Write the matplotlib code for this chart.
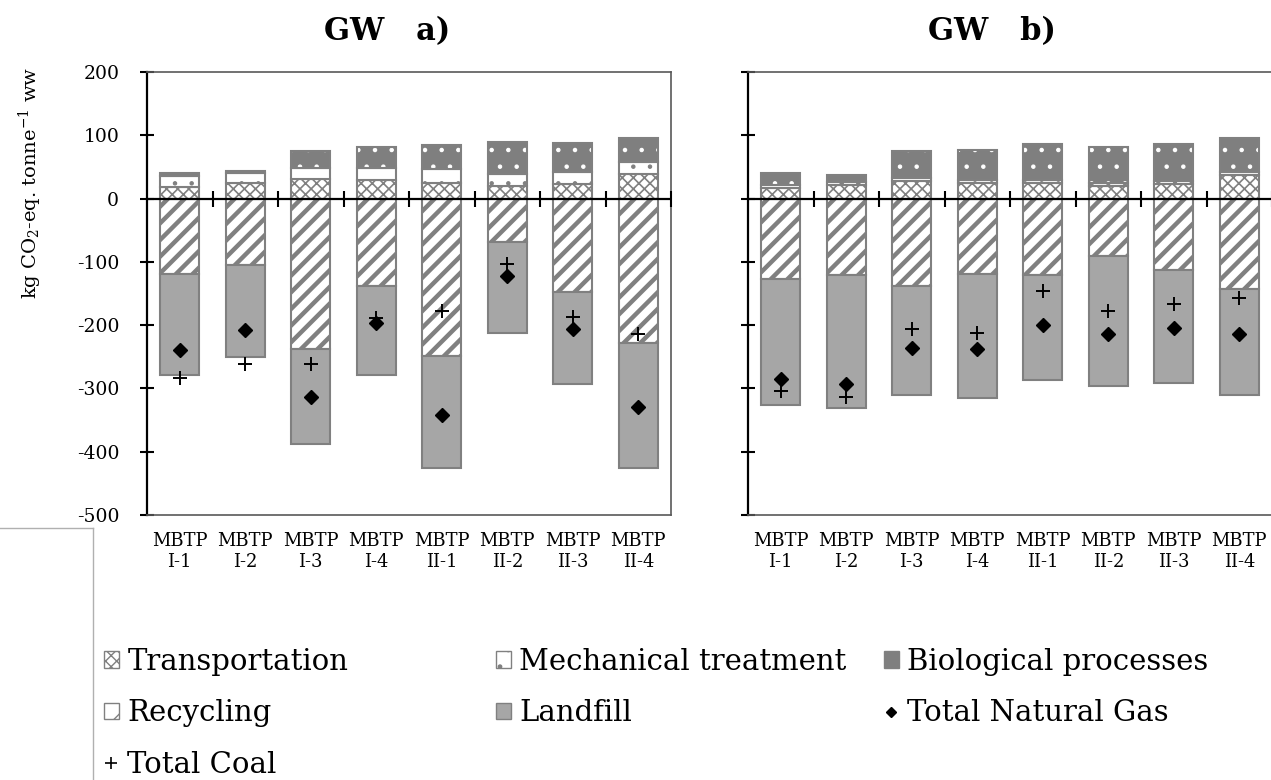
import matplotlib
matplotlib.use('Agg')
import numpy as np
import matplotlib.pyplot as plt
from matplotlib.patches import Patch
from matplotlib.lines import Line2D

plt.rcParams['font.family'] = 'DejaVu Serif'
plt.rcParams['mathtext.fontset'] = 'dejavuserif'
plt.rcParams['axes.unicode_minus'] = False

categories = ['MBTP\nI-1', 'MBTP\nI-2', 'MBTP\nI-3', 'MBTP\nI-4',
              'MBTP\nII-1', 'MBTP\nII-2', 'MBTP\nII-3', 'MBTP\nII-4']

# panel a)
transport_a = [19, 24, 31, 30, 25, 20, 23, 39]
mech_a = [16, 16, 18, 19, 21, 19, 19, 18]
bio_a = [6, 4, 26, 33, 39, 51, 46, 38]
recycling_a = [-119, -105, -237, -138, -249, -69, -148, -228]
landfill_a = [-160, -145, -151, -140, -177, -143, -145, -197]
coal_a = [-284, -262, -262, -188, -178, -103, -187, -214]
gas_a = [-240, -207, -314, -197, -342, -123, -206, -330]

# panel b)
transport_b = [17, 21, 28, 24, 24, 20, 23, 38]
mech_b = [5, 5, 5, 6, 5, 4, 5, 4]
bio_b = [19, 11, 42, 46, 57, 57, 58, 54]
recycling_b = [-127, -120, -138, -119, -120, -91, -113, -143]
landfill_b = [-199, -211, -172, -196, -166, -205, -179, -168]
coal_b = [-304, -313, -206, -213, -146, -178, -167, -157]
gas_b = [-285, -293, -236, -238, -199, -214, -205, -214]

EDGE = '#808080'
BIO = '#7f7f7f'
LAND = '#a6a6a6'

W, H = 1271, 780
fig = plt.figure(figsize=(W / 100, H / 100), dpi=100)


def px_axes(x0, y0, x1, y1):
    return fig.add_axes([x0 / W, 1 - y1 / H, (x1 - x0) / W, (y1 - y0) / H])


def set_hlw(patches, lw):
    for p in patches:
        if hasattr(p, 'set_hatch_linewidth'):
            p.set_hatch_linewidth(lw)


def hatched(ax, x, h, b, face, hatch, hcolor, hlw):
    with plt.rc_context({'hatch.linewidth': hlw}):
        bars = ax.bar(x, h, 0.6, bottom=b, color=face, edgecolor=hcolor,
                      hatch=hatch, linewidth=0, zorder=2)
    set_hlw(bars, hlw)
    ax.bar(x, h, 0.6, bottom=b, fill=False, edgecolor=EDGE, linewidth=1.5, zorder=2)


def panel(ax, transport, mech, bio, recycling, landfill, coal, gas, labels=True):
    x = np.arange(len(categories))
    t = np.array(transport)
    m = np.array(mech)
    b = np.array(bio)
    r = np.array(recycling)
    hatched(ax, x, t, 0, 'white', 'xxx', EDGE, 1.2)
    hatched(ax, x, m, t, 'white', '.', EDGE, 0.8)
    hatched(ax, x, b, t + m, BIO, '.', 'white', 0.8)
    hatched(ax, x, r, 0, 'white', '//', EDGE, 3.2)
    hatched(ax, x, landfill, r, LAND, None, EDGE, 1)
    ax.plot(x, coal, ls='none', marker='+', color='black', ms=10.5, mew=1.4, zorder=4)
    ax.plot(x, gas, ls='none', marker='D', color='black', ms=7, zorder=4)

    ax.axhline(0, color='black', lw=1.6, zorder=3)
    bounds = np.arange(len(categories)) + 0.5
    ax.plot(bounds, np.zeros(len(bounds)), ls='none', marker='|', color='black',
            ms=11, mew=1.5, zorder=3, clip_on=False)

    ax.set_xlim(-0.5, len(categories) - 0.5)
    ax.set_ylim(-500, 200)
    ax.set_yticks(range(-500, 201, 100))
    ax.tick_params(axis='y', direction='inout', length=10, width=1.5,
                   labelsize=13.5, pad=15)
    ax.set_xticks(x)
    ax.set_xticklabels(categories, fontsize=13, linespacing=1.25)
    ax.tick_params(axis='x', length=0, pad=12)
    if not labels:
        ax.tick_params(axis='y', labelleft=False)
    for s in ['top', 'right', 'bottom']:
        ax.spines[s].set_color('#595959')
        ax.spines[s].set_linewidth(1.2)
    ax.spines['left'].set_color('black')
    ax.spines['left'].set_linewidth(1.6)


ax_a = px_axes(147, 72, 671, 515)
ax_b = px_axes(748, 72, 1272, 515)
panel(ax_a, transport_a, mech_a, bio_a, recycling_a, landfill_a, coal_a, gas_a)
panel(ax_b, transport_b, mech_b, bio_b, recycling_b, landfill_b, coal_b, gas_b, labels=False)

fig.text(387 / W, 1 - 32 / H, 'GW   a)', fontsize=22, fontweight='bold', ha='center', va='center')
fig.text(992 / W, 1 - 32 / H, 'GW   b)', fontsize=22, fontweight='bold', ha='center', va='center')
fig.text(30 / W, 1 - 183 / H, 'kg CO$_2$-eq. tonne$^{-1}$ ww', fontsize=14,
         rotation=90, ha='center', va='center')

# legend, three columns placed like the original
with plt.rc_context({'hatch.linewidth': 1.2}):
    h_trans = Patch(facecolor='white', edgecolor=EDGE, hatch='xxx', linewidth=1)
with plt.rc_context({'hatch.linewidth': 0.8}):
    h_mech = Patch(facecolor='white', edgecolor=EDGE, hatch='.', linewidth=1)
with plt.rc_context({'hatch.linewidth': 3}):
    h_rec = Patch(facecolor='white', edgecolor=EDGE, hatch='/', linewidth=1)
set_hlw([h_trans], 1.2)
set_hlw([h_mech], 0.8)
set_hlw([h_rec], 3)
h_bio = Patch(facecolor=BIO, edgecolor=EDGE, linewidth=1)
h_land = Patch(facecolor=LAND, edgecolor=EDGE, linewidth=1)
h_coal = Line2D([], [], ls='none', marker='+', color='black', ms=9, mew=1.2)
h_gas = Line2D([], [], ls='none', marker='D', color='black', ms=5)

columns = [
    (104, [h_trans, h_rec, h_coal], ['Transportation', 'Recycling', 'Total Coal']),
    (496, [h_mech, h_land], ['Mechanical treatment', 'Landfill']),
    (884, [h_bio, h_gas], ['Biological processes', 'Total Natural Gas']),
]
for xpx, hs, ls in columns:
    fig.legend(hs, ls, loc='upper left', bbox_to_anchor=(xpx / W, 1 - 648 / H),
               frameon=False, fontsize=21, handlelength=0.5, handleheight=0.5,
               handletextpad=0.3, labelspacing=0.8, borderpad=0, borderaxespad=0)

fig.add_artist(Line2D([93 / W, 93 / W], [1 - 528 / H, 0], transform=fig.transFigure,
                      color='#b0b0b0', lw=1))
fig.add_artist(Line2D([0, 93 / W], [1 - 528 / H, 1 - 528 / H], transform=fig.transFigure,
                      color='#b0b0b0', lw=1))

fig.savefig('out.png', dpi=100)
